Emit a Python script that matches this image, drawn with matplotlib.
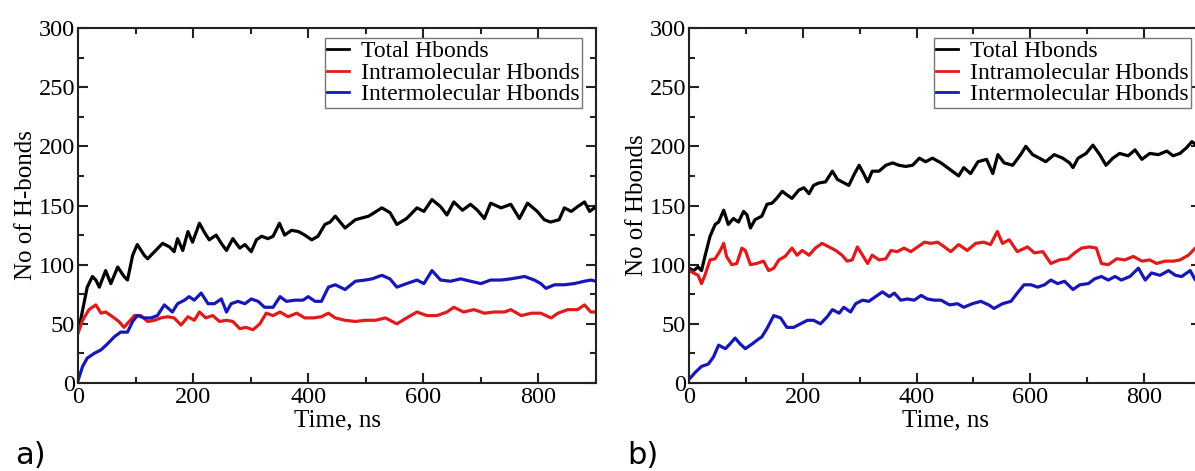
import matplotlib
matplotlib.use("Agg")
import matplotlib.pyplot as plt
from matplotlib.ticker import MultipleLocator

# ---------------- data: panel a) ----------------
a_total_t = [0, 2, 16, 25, 31, 37, 48, 57, 69, 80, 86, 95, 103, 115, 121, 133, 147, 159, 167, 173,
             182, 191, 199, 211, 220, 228, 240, 249, 258, 269, 281, 290, 301, 310, 319, 330, 339,
             350, 359, 371, 383, 394, 406, 417, 429, 438, 447, 464, 482, 505, 528, 542, 554, 571,
             589, 601, 615, 630, 641, 653, 668, 682, 694, 706, 717, 735, 752, 767, 781, 798, 810,
             821, 836, 845, 857, 868, 880, 889, 900]
a_total = [45, 47, 81, 90, 87, 81, 95, 84, 98, 90, 87, 108, 117, 108, 105, 111, 118, 115, 111, 122,
           112, 128, 119, 135, 127, 121, 125, 118, 112, 122, 114, 117, 111, 121, 124, 122, 124,
           135, 125, 129, 128, 125, 121, 124, 134, 136, 141, 131, 138, 141, 148, 144, 134, 139,
           148, 145, 155, 149, 142, 153, 146, 151, 146, 139, 152, 148, 151, 139, 152, 145, 138,
           136, 138, 148, 145, 149, 153, 145, 149]

a_intra_t = [0, 8, 19, 31, 40, 48, 60, 71, 80, 89, 98, 109, 121, 133, 144, 156, 167, 179, 191, 202,
             211, 222, 234, 246, 258, 269, 281, 292, 304, 316, 327, 339, 351, 365, 380, 394, 409,
             423, 435, 447, 464, 482, 499, 517, 534, 554, 571, 589, 606, 624, 641, 653, 670, 688,
             706, 723, 741, 752, 770, 788, 804, 822, 834, 851, 868, 880, 891, 900]
a_intra = [42, 53, 62, 66, 59, 60, 56, 52, 47, 52, 57, 57, 52, 53, 55, 56, 55, 49, 56, 53,
           60, 55, 57, 52, 53, 52, 46, 47, 45, 50, 59, 57, 60, 56, 59, 55, 55,
           56, 59, 55, 53, 52, 53, 53, 55, 50, 55, 60, 57, 57, 60, 64, 60, 62,
           59, 60, 60, 62, 57, 59, 59, 55, 59, 62, 62, 66, 60, 60]

a_inter_t = [0, 8, 16, 28, 40, 51, 63, 74, 86, 95, 103, 115, 127, 138, 150, 164, 173, 185, 193, 202,
             214, 226, 237, 249, 258, 266, 278, 290, 301, 313, 324, 339, 351, 362, 377, 391, 400,
             412, 423, 435, 447, 464, 482, 499, 511, 528, 542, 554, 571, 589, 601, 615, 630, 647,
             665, 682, 700, 717, 735, 752, 776, 793, 804, 813, 828, 845, 862, 880, 891, 900]
a_inter = [2, 14, 21, 25, 28, 33, 39, 43, 43, 52, 57, 55, 55, 57, 66, 60, 67, 70, 73, 70,
           76, 67, 67, 71, 60, 67, 69, 67, 71, 69, 64, 64, 73, 69, 70, 70, 73,
           69, 69, 81, 83, 79, 86, 87, 88, 91, 88, 81, 84, 87, 84, 95, 87, 86,
           88, 86, 84, 87, 87, 88, 90, 87, 84, 80, 83, 83, 84, 86, 87, 86]

# ---------------- data: panel b) ----------------
b_total_t = [0, 8, 16, 22, 28, 37, 46, 52, 61, 69, 78, 87, 96, 102, 108, 116, 128, 137, 146, 154,
             164, 172, 181, 193, 202, 211, 219, 228, 240, 252, 261, 269, 281, 290, 299, 308, 314,
             322, 334, 346, 358, 369, 381, 393, 405, 416, 428, 443, 460, 474, 483, 495, 508, 523,
             534, 543, 554, 569, 583, 592, 604, 616, 627, 642, 657, 669, 675, 684, 698, 710, 722,
             733, 745, 757, 772, 784, 796, 810, 825, 840, 851, 863, 875, 884, 892, 900]
b_total = [97, 95, 98, 95, 107, 124, 134, 136, 146, 134, 139, 136, 145, 142, 131, 138, 141, 151, 152, 156,
           162, 159, 156, 163, 165, 160, 167, 169, 170, 179, 172, 170, 167, 176, 184, 176, 170,
           179, 179, 184, 186, 184, 183, 184, 190, 187, 190, 186, 180, 175, 182, 177, 187, 189,
           177, 193, 186, 184, 193, 200, 193, 190, 187, 193, 190, 186, 182, 190, 194, 201, 193,
           184, 190, 194, 192, 197, 189, 194, 193, 196, 192, 194, 199, 204, 201, 198]

b_intra_t = [0, 8, 16, 22, 28, 37, 46, 55, 61, 66, 75, 84, 93, 99, 108, 119, 131, 140, 149, 158,
             169, 181, 190, 199, 211, 222, 234, 246, 258, 269, 278, 287, 296, 305, 314, 322, 334,
             346, 355, 366, 378, 390, 402, 414, 425, 437, 449, 460, 474, 489, 504, 518, 530, 542,
             551, 563, 577, 595, 607, 622, 636, 651, 666, 678, 690, 704, 716, 725, 737, 752, 766,
             781, 796, 810, 822, 837, 852, 863, 878, 890, 900]
b_intra = [95, 93, 91, 84, 91, 104, 105, 112, 118, 107, 100, 101, 114, 112, 100, 101, 103, 95, 97, 104,
           107, 114, 108, 112, 108, 114, 118, 115, 112, 108, 103, 104, 115, 108, 101, 108, 104,
           105, 112, 111, 114, 111, 115, 119, 118, 119, 115, 111, 117, 112, 118, 119, 117, 128,
           118, 121, 111, 115, 110, 111, 101, 104, 105, 110, 114, 115, 114, 101, 100, 105, 104,
           107, 103, 104, 101, 103, 103, 104, 108, 114, 116]

b_inter_t = [0, 11, 22, 34, 43, 52, 64, 72, 81, 90, 99, 111, 119, 128, 137, 149, 161, 172, 184, 196,
             208, 219, 231, 243, 252, 264, 272, 284, 293, 305, 316, 328, 340, 352, 361, 372, 384,
             396, 408, 419, 431, 443, 458, 472, 483, 498, 513, 527, 536, 551, 566, 577, 589, 601,
             613, 625, 636, 648, 660, 675, 687, 702, 713, 725, 737, 749, 760, 775, 790, 802, 813,
             828, 843, 855, 866, 881, 890, 900]
b_inter = [3, 9, 14, 16, 22, 32, 29, 33, 38, 33, 29, 33, 36, 39, 46, 57, 55, 47, 47, 50,
           53, 53, 50, 56, 62, 59, 64, 60, 67, 70, 69, 73, 77, 73, 76, 70, 71,
           70, 74, 71, 70, 70, 66, 67, 64, 67, 69, 66, 63, 67, 69, 76, 83, 83,
           81, 83, 87, 84, 86, 79, 83, 84, 88, 90, 87, 90, 87, 90, 97, 87, 93,
           91, 95, 91, 90, 95, 87, 90]

legend_labels = ["Total Hbonds", "Intramolecular Hbonds", "Intermolecular Hbonds"]
ylabels = ["No of H-bonds", "No of Hbonds"]
panel_tags = ["a)", "b)"]
x_label = "Time, ns"

# ---------------- styling ----------------
plt.rcParams['font.family'] = ['Liberation Serif', 'DejaVu Serif']

W, H = 1195, 471
fig = plt.figure(figsize=(W / 100, H / 100), dpi=100)

c_total = "#000000"
c_intra = "#e01b1b"
c_inter = "#1717b8"

axes_px = [(78, 596), (689, 1201)]
top_px, bot_px = 28, 383

panels = [
    ((a_total_t, a_total), (a_intra_t, a_intra), (a_inter_t, a_inter)),
    ((b_total_t, b_total), (b_intra_t, b_intra), (b_inter_t, b_inter)),
]
legend_boxes = [(582, 38), (1191, 38)]

for i, (series, (x0, x1)) in enumerate(zip(panels, axes_px)):
    ax = fig.add_axes([x0 / W, 1 - bot_px / H, (x1 - x0) / W, (bot_px - top_px) / H])
    for (t, v), col, lab in zip(series, [c_total, c_intra, c_inter], legend_labels):
        ax.plot(t, v, color=col, lw=2.3, label=lab)
    ax.set_xlim(0, 900)
    ax.set_ylim(0, 300)
    ax.xaxis.set_major_locator(MultipleLocator(200))
    ax.xaxis.set_minor_locator(MultipleLocator(100))
    ax.yaxis.set_major_locator(MultipleLocator(50))
    ax.yaxis.set_minor_locator(MultipleLocator(25))
    ax.tick_params(which='both', direction='in', top=True, right=True, width=1.5, color='#222222')
    ax.tick_params(which='major', length=7, labelsize=17.5)
    ax.tick_params(axis='x', which='major', pad=3)
    ax.tick_params(axis='y', which='major', pad=2)
    ax.tick_params(which='minor', length=4)
    for s in ax.spines.values():
        s.set_linewidth(1.5)
        s.set_color('#222222')
    ax.set_xlabel(x_label, fontsize=18, labelpad=1)
    ax.set_ylabel(ylabels[i], fontsize=18, labelpad=1)
    lx, ly = legend_boxes[i]
    bx = (lx - x0) / (x1 - x0)
    by = (bot_px - ly) / (bot_px - top_px)
    leg = ax.legend(loc='upper right', bbox_to_anchor=(bx, by), fontsize=17,
                    frameon=True, fancybox=False, framealpha=1, edgecolor='#777777',
                    handlelength=0.9, handletextpad=0.5, borderpad=0.12,
                    labelspacing=0.0, borderaxespad=0)
    leg.get_frame().set_linewidth(1.0)
    for ln in leg.get_lines():
        ln.set_linewidth(2.0)

fig.text(30 / W, 1 - 455 / H, panel_tags[0], fontsize=22, family='DejaVu Sans', ha='center', va='center')
fig.text(643 / W, 1 - 455 / H, panel_tags[1], fontsize=22, family='DejaVu Sans', ha='center', va='center')

fig.savefig("out.png", dpi=100)
